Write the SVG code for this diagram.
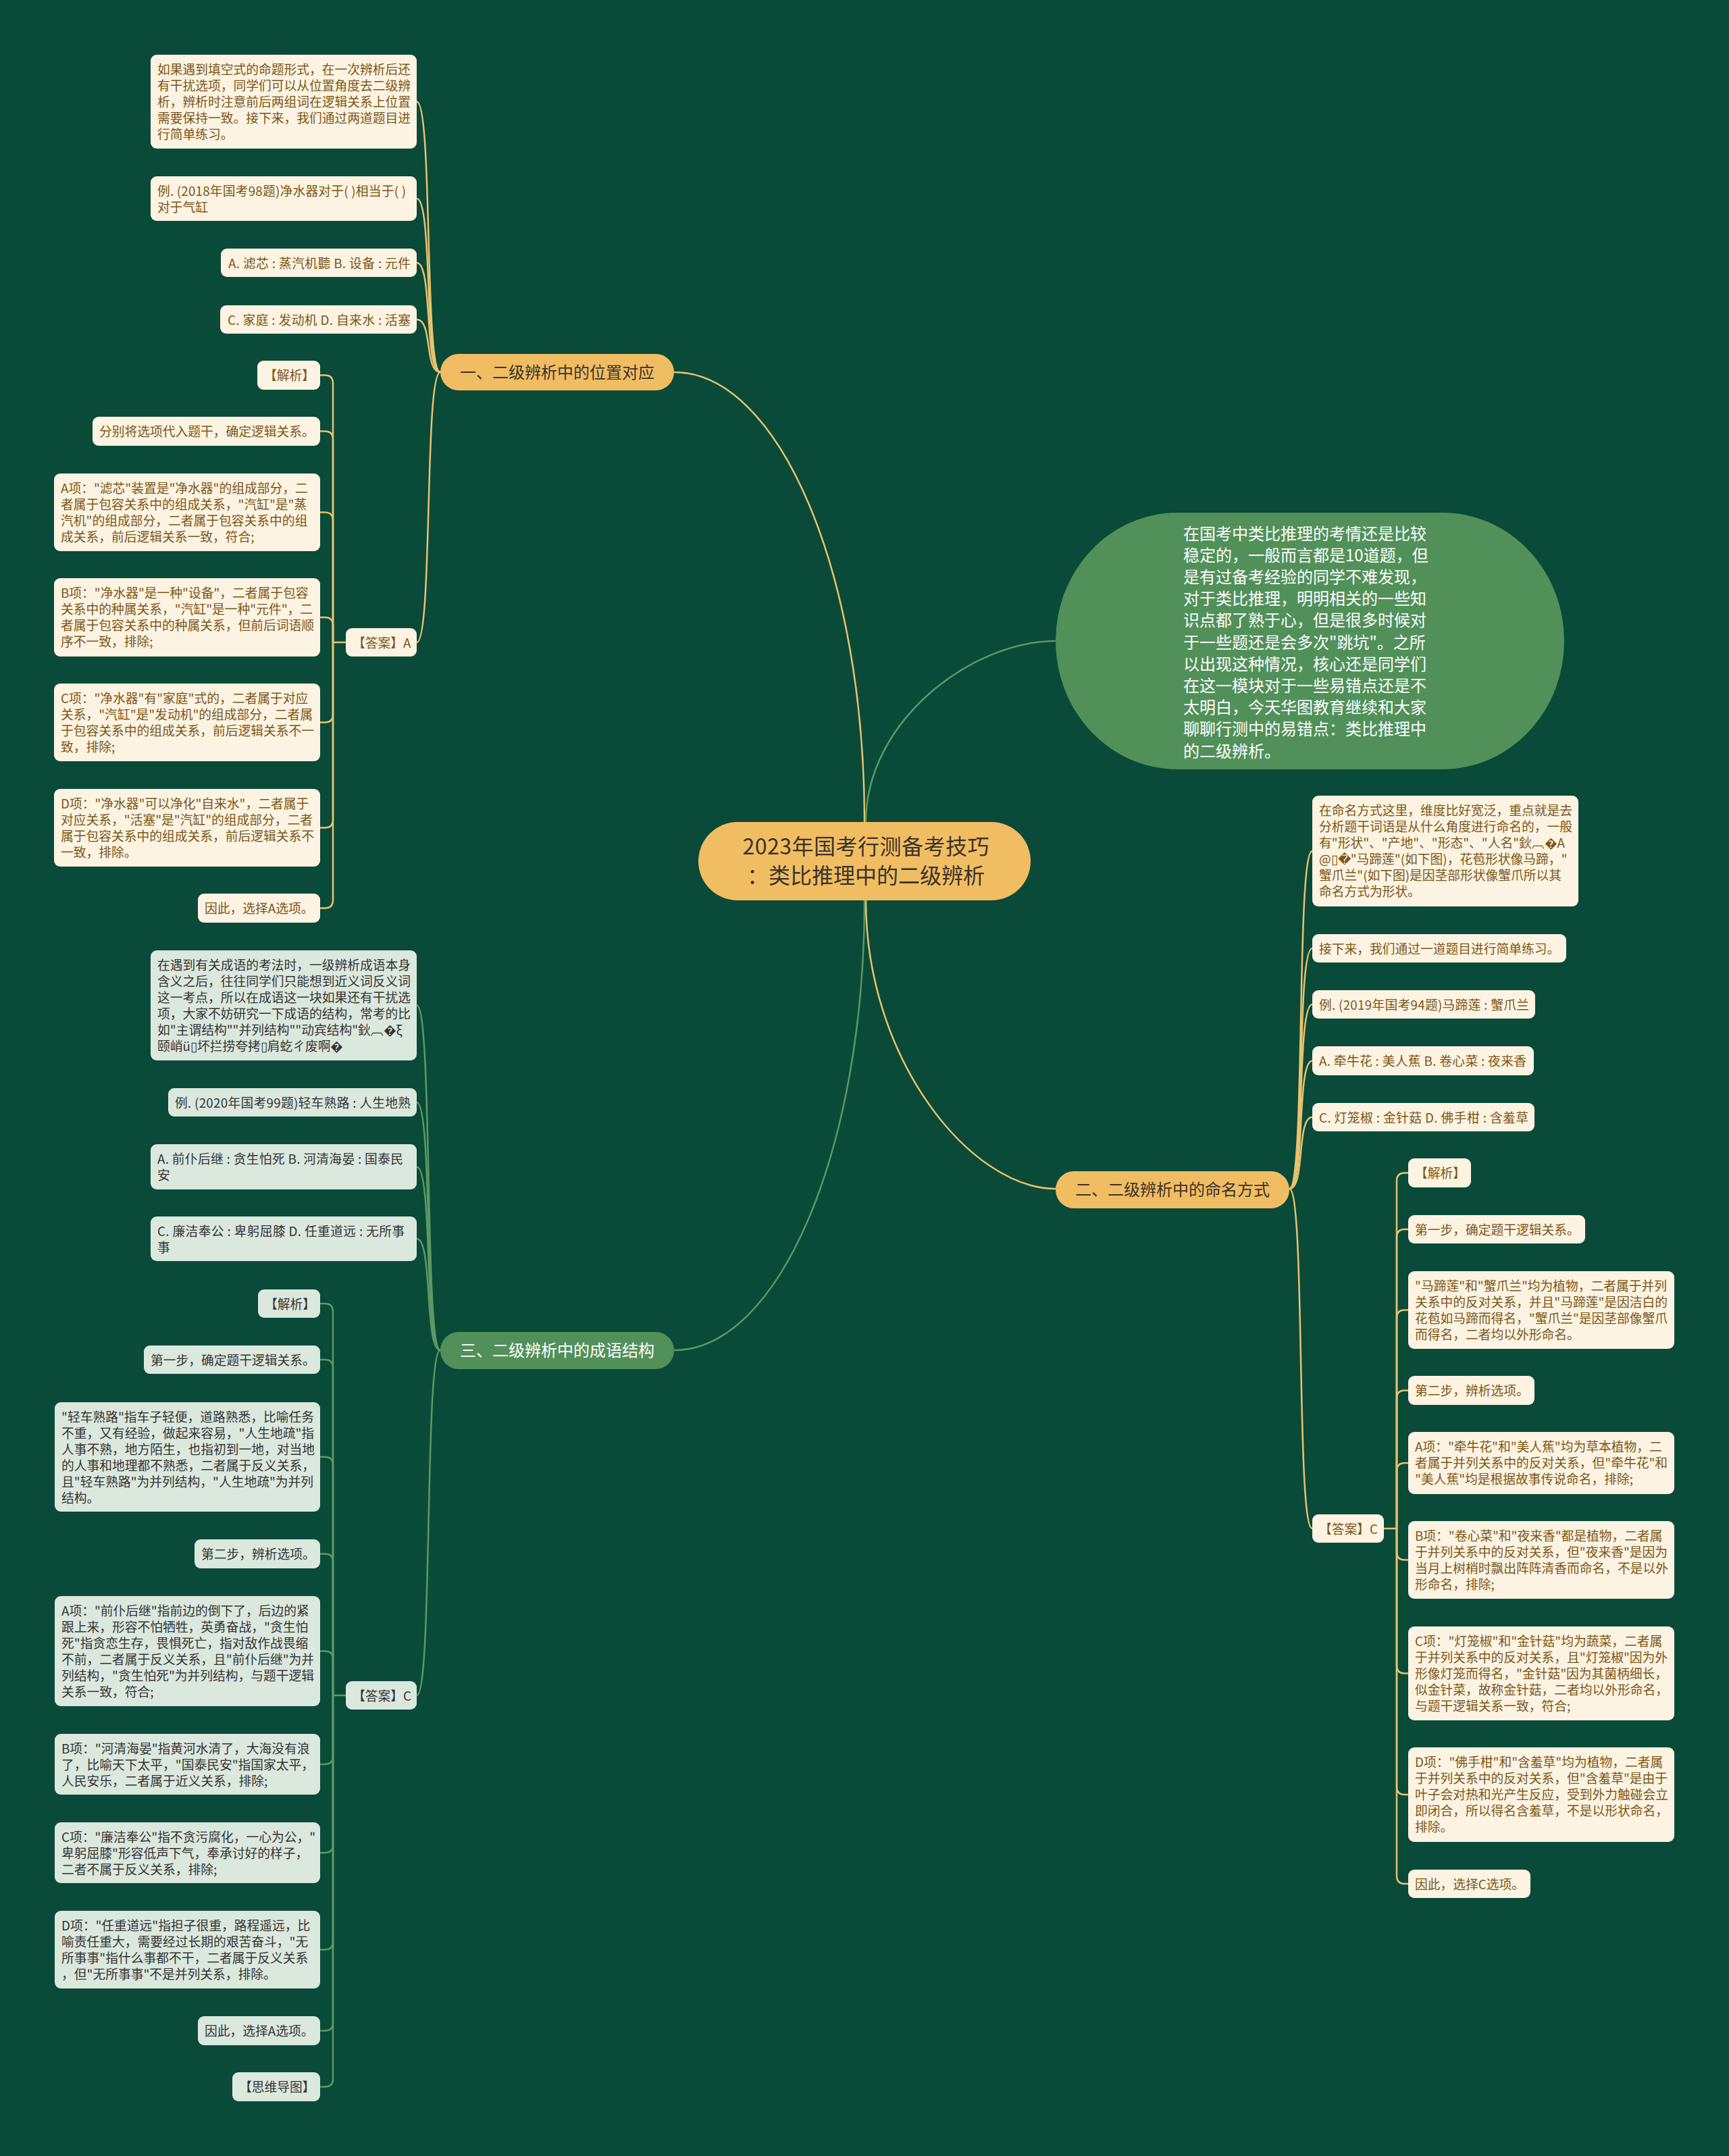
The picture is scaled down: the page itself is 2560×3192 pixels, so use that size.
<svg xmlns="http://www.w3.org/2000/svg" width="2560" height="3192" viewBox="0 0 2560 3192">
<style>
text{font-family:"Noto Sans CJK SC","Liberation Sans",sans-serif;}
.cn{fill:#fcf3e2;}
.gn{fill:#dbe8dd;}
.ct{fill:#7b5617;font-size:18.75px;}
.gt{fill:#333333;font-size:18.75px;}
.ly{fill:none;stroke:#e8c36f;stroke-width:2.5;}
.lg{fill:none;stroke:#5b9a63;stroke-width:2.5;}
.pill{fill:#f1bd63;}
.gpill{fill:#519159;}
.bt{font-size:24px;}
</style>
<rect width="2560" height="3192" fill="#0a4a38"/>

<g id="connectors">
  <path class="ly" d="M998 551C1154 551 1280 849 1280 1217"/>
  <path class="lg" d="M1282 1217C1282 1069 1437 949 1563 949"/>
  <path class="ly" d="M1282 1333C1282 1568 1437 1760 1563 1760"/>
  <path class="lg" d="M1280 1333C1280 1700 1154 1999 998 1999"/>
  <path class="ly" d="M652 551C628 551 641 150.5 617 150.5"/>
  <path class="ly" d="M652 551C628 551 641 294 617 294"/>
  <path class="ly" d="M652 551C628 551 641 389 617 389"/>
  <path class="ly" d="M652 551C628 551 641 473 617 473"/>
  <path class="ly" d="M652 551C628 551 641 951 617 951"/>
  <path class="ly" d="M512 951H493"/>
  <path class="ly" d="M493 951V567.5Q493 555.5 481 555.5H474"/>
  <path class="ly" d="M493 951V650.5Q493 638.5 481 638.5H474"/>
  <path class="ly" d="M493 951V770.5Q493 758.5 481 758.5H474"/>
  <path class="ly" d="M493 951V926Q493 914 481 914H474"/>
  <path class="ly" d="M493 951V1057.5Q493 1069.5 481 1069.5H474"/>
  <path class="ly" d="M493 951V1213.5Q493 1225.5 481 1225.5H474"/>
  <path class="ly" d="M493 951V1332.5Q493 1344.5 481 1344.5H474"/>
  <path class="lg" d="M652 1999C628 1999 641 1488.5 617 1488.5"/>
  <path class="lg" d="M652 1999C628 1999 641 1632 617 1632"/>
  <path class="lg" d="M652 1999C628 1999 641 1727.5 617 1727.5"/>
  <path class="lg" d="M652 1999C628 1999 641 1834 617 1834"/>
  <path class="lg" d="M652 1999C628 1999 641 2510 617 2510"/>
  <path class="lg" d="M512 2510H493"/>
  <path class="lg" d="M493 2510V1942Q493 1930 481 1930H474"/>
  <path class="lg" d="M493 2510V2025Q493 2013 481 2013H474"/>
  <path class="lg" d="M493 2510V2169Q493 2157 481 2157H474"/>
  <path class="lg" d="M493 2510V2312.5Q493 2300.5 481 2300.5H474"/>
  <path class="lg" d="M493 2510V2456.5Q493 2444.5 481 2444.5H474"/>
  <path class="lg" d="M493 2510V2600Q493 2612 481 2612H474"/>
  <path class="lg" d="M493 2510V2731Q493 2743 481 2743H474"/>
  <path class="lg" d="M493 2510V2874.5Q493 2886.5 481 2886.5H474"/>
  <path class="lg" d="M493 2510V2994.5Q493 3006.5 481 3006.5H474"/>
  <path class="lg" d="M493 2510V3077.5Q493 3089.5 481 3089.5H474"/>
  <path class="ly" d="M1909 1760C1933 1760 1919 1260 1943 1260"/>
  <path class="ly" d="M1909 1760C1933 1760 1919 1404 1943 1404"/>
  <path class="ly" d="M1909 1760C1933 1760 1919 1487 1943 1487"/>
  <path class="ly" d="M1909 1760C1933 1760 1919 1570.5 1943 1570.5"/>
  <path class="ly" d="M1909 1760C1933 1760 1919 1654 1943 1654"/>
  <path class="ly" d="M1909 1760C1933 1760 1919 2263 1943 2263"/>
  <path class="ly" d="M2049 2263H2068"/>
  <path class="ly" d="M2068 2263V1748.5Q2068 1736.5 2080 1736.5H2085"/>
  <path class="ly" d="M2068 2263V1832Q2068 1820 2080 1820H2085"/>
  <path class="ly" d="M2068 2263V1951.5Q2068 1939.5 2080 1939.5H2085"/>
  <path class="ly" d="M2068 2263V2070.5Q2068 2058.5 2080 2058.5H2085"/>
  <path class="ly" d="M2068 2263V2178Q2068 2166 2080 2166H2085"/>
  <path class="ly" d="M2068 2263V2297.5Q2068 2309.5 2080 2309.5H2085"/>
  <path class="ly" d="M2068 2263V2465.5Q2068 2477.5 2080 2477.5H2085"/>
  <path class="ly" d="M2068 2263V2645Q2068 2657 2080 2657H2085"/>
  <path class="ly" d="M2068 2263V2777Q2068 2789 2080 2789H2085"/>
</g>

<g id="center">
  <rect class="pill" x="1034" y="1217" width="492" height="116" rx="58"/>
  <text x="1282" y="1264.5" font-size="32" fill="#3a3328" text-anchor="middle" textLength="365" lengthAdjust="spacing">2023年国考行测备考技巧</text>
  <text x="1282" y="1307.5" font-size="32" fill="#3a3328" text-anchor="middle">：类比推理中的二级辨析</text>
</g>

<g id="intro">
  <rect class="gpill" x="1563" y="759" width="753" height="380" rx="180" ry="190"/>
  <text font-size="24" fill="#ffffff">
    <tspan x="1752" y="798.6">在国考中类比推理的考情还是比较</tspan>
    <tspan x="1752" y="830.8">稳定的，一般而言都是10道题，但</tspan>
    <tspan x="1752" y="863">是有过备考经验的同学不难发现，</tspan>
    <tspan x="1752" y="895.2">对于类比推理，明明相关的一些知</tspan>
    <tspan x="1752" y="927.4">识点都了熟于心，但是很多时候对</tspan>
    <tspan x="1752" y="959.6">于一些题还是会多次"跳坑"。之所</tspan>
    <tspan x="1752" y="991.8">以出现这种情况，核心还是同学们</tspan>
    <tspan x="1752" y="1024">在这一模块对于一些易错点还是不</tspan>
    <tspan x="1752" y="1056.2">太明白，今天华图教育继续和大家</tspan>
    <tspan x="1752" y="1088.4">聊聊行测中的易错点：类比推理中</tspan>
    <tspan x="1752" y="1120.6">的二级辨析。</tspan>
  </text>
</g>

<g id="branch1">
  <rect class="pill" x="652" y="524" width="346" height="54" rx="27"/>
  <text class="bt" x="825" y="559.6" fill="#3a3328" text-anchor="middle">一、二级辨析中的位置对应</text>
</g>
<g id="branch2">
  <rect class="pill" x="1563" y="1734" width="346" height="55" rx="27"/>
  <text class="bt" x="1736" y="1770" fill="#3a3328" text-anchor="middle">二、二级辨析中的命名方式</text>
</g>
<g id="branch3">
  <rect class="gpill" x="652" y="1972" width="346" height="55" rx="27"/>
  <text class="bt" x="825" y="2007.6" fill="#ffffff" text-anchor="middle">三、二级辨析中的成语结构</text>
</g>

<g id="n1"><rect class="cn" x="223" y="81" width="394" height="139" rx="9"/>
<text class="ct"><tspan x="233" y="109.5">如果遇到填空式的命题形式，在一次辨析后还</tspan><tspan x="233" y="133.5">有干扰选项，同学们可以从位置角度去二级辨</tspan><tspan x="233" y="157.5">析，辨析时注意前后两组词在逻辑关系上位置</tspan><tspan x="233" y="181.5">需要保持一致。接下来，我们通过两道题目进</tspan><tspan x="233" y="205.5">行简单练习。</tspan></text></g>
<g id="n2"><rect class="cn" x="223" y="261" width="394" height="66" rx="9"/>
<text class="ct" x="233" y="289.5" textLength="368" lengthAdjust="spacing">例. (2018年国考98题)净水器对于( )相当于( )</text>
<text class="ct" x="233" y="313.5">对于气缸</text></g>
<g id="n3"><rect class="cn" x="327" y="368" width="290" height="42" rx="9"/>
<text class="ct" x="338" y="396.5" textLength="270" lengthAdjust="spacing">A. 滤芯 : 蒸汽机聽 B. 设备 : 元件</text></g>
<g id="n4"><rect class="cn" x="326" y="452" width="291" height="42" rx="9"/>
<text class="ct" x="337" y="480.5" textLength="271" lengthAdjust="spacing">C. 家庭 : 发动机 D. 自来水 : 活塞</text></g>
<g id="ansA"><rect class="cn" x="512" y="930" width="105" height="42" rx="9"/>
<text class="ct" x="522" y="958.5">【答案】A</text></g>

<g id="a1"><rect class="cn" x="381" y="534" width="93" height="43" rx="9"/>
<text class="ct" x="391" y="562.5">【解析】</text></g>
<g id="a2"><rect class="cn" x="137" y="617" width="337" height="43" rx="9"/>
<text class="ct" x="147" y="645.5">分别将选项代入题干，确定逻辑关系。</text></g>
<g id="a3"><rect class="cn" x="80" y="701" width="394" height="115" rx="9"/>
<text class="ct"><tspan x="90" y="729.5">A项："滤芯"装置是"净水器"的组成部分，二</tspan><tspan x="90" y="753.5">者属于包容关系中的组成关系，"汽缸"是"蒸</tspan><tspan x="90" y="777.5">汽机"的组成部分，二者属于包容关系中的组</tspan><tspan x="90" y="801.5">成关系，前后逻辑关系一致，符合;</tspan></text></g>
<g id="a4"><rect class="cn" x="80" y="856" width="394" height="116" rx="9"/>
<text class="ct"><tspan x="90" y="884.5">B项："净水器"是一种"设备"，二者属于包容</tspan><tspan x="90" y="908.5">关系中的种属关系，"汽缸"是一种"元件"，二</tspan><tspan x="90" y="932.5">者属于包容关系中的种属关系，但前后词语顺</tspan><tspan x="90" y="956.5">序不一致，排除;</tspan></text></g>
<g id="a5"><rect class="cn" x="80" y="1012" width="394" height="115" rx="9"/>
<text class="ct"><tspan x="90" y="1040.5">C项："净水器"有"家庭"式的，二者属于对应</tspan><tspan x="90" y="1064.5">关系，"汽缸"是"发动机"的组成部分，二者属</tspan><tspan x="90" y="1088.5">于包容关系中的组成关系，前后逻辑关系不一</tspan><tspan x="90" y="1112.5">致，排除;</tspan></text></g>
<g id="a6"><rect class="cn" x="80" y="1168" width="394" height="115" rx="9"/>
<text class="ct"><tspan x="90" y="1196.5">D项："净水器"可以净化"自来水"，二者属于</tspan><tspan x="90" y="1220.5">对应关系，"活塞"是"汽缸"的组成部分，二者</tspan><tspan x="90" y="1244.5">属于包容关系中的组成关系，前后逻辑关系不</tspan><tspan x="90" y="1268.5">一致，排除。</tspan></text></g>
<g id="a7"><rect class="cn" x="293" y="1323" width="181" height="43" rx="9"/>
<text class="ct" x="303" y="1351.5">因此，选择A选项。</text></g>

<g id="g1"><rect class="gn" x="223" y="1407" width="394" height="163" rx="9"/>
<text class="gt"><tspan x="233" y="1435.5">在遇到有关成语的考法时，一级辨析成语本身</tspan><tspan x="233" y="1459.5">含义之后，往往同学们只能想到近义词反义词</tspan><tspan x="233" y="1483.5">这一考点，所以在成语这一块如果还有干扰选</tspan><tspan x="233" y="1507.5">项，大家不妨研究一下成语的结构，常考的比</tspan><tspan x="233" y="1531.5">如"主谓结构""并列结构""动宾结构"鈥︹�ξ</tspan><tspan x="233" y="1555.5">颐峭ü▯坏拦捞夸拷▯肩虼ㄔ废啊�</tspan></text></g>
<g id="g2"><rect class="gn" x="249" y="1611" width="368" height="42" rx="9"/>
<text class="gt" x="259" y="1639.5" textLength="349" lengthAdjust="spacing">例. (2020年国考99题)轻车熟路 : 人生地熟</text></g>
<g id="g3"><rect class="gn" x="223" y="1694" width="394" height="67" rx="9"/>
<text class="gt" x="233" y="1722.5" textLength="364" lengthAdjust="spacing">A. 前仆后继 : 贪生怕死 B. 河清海晏 : 国泰民</text>
<text class="gt" x="233" y="1746.5">安</text></g>
<g id="g4"><rect class="gn" x="223" y="1801" width="394" height="66" rx="9"/>
<text class="gt" x="233" y="1829.5" textLength="366" lengthAdjust="spacing">C. 廉洁奉公 : 卑躬屈膝 D. 任重道远 : 无所事</text>
<text class="gt" x="233" y="1853.5">事</text></g>
<g id="ansC"><rect class="gn" x="512" y="2489" width="105" height="42" rx="9"/>
<text class="gt" x="522" y="2517.5">【答案】C</text></g>

<g id="c1"><rect class="gn" x="382" y="1909" width="92" height="42" rx="9"/>
<text class="gt" x="392" y="1937.5">【解析】</text></g>
<g id="c2"><rect class="gn" x="213" y="1992" width="261" height="42" rx="9"/>
<text class="gt" x="223" y="2020.5">第一步，确定题干逻辑关系。</text></g>
<g id="c3"><rect class="gn" x="81" y="2076" width="393" height="162" rx="9"/>
<text class="gt"><tspan x="91" y="2104.5">"轻车熟路"指车子轻便，道路熟悉，比喻任务</tspan><tspan x="91" y="2128.5">不重，又有经验，做起来容易，"人生地疏"指</tspan><tspan x="91" y="2152.5">人事不熟，地方陌生，也指初到一地，对当地</tspan><tspan x="91" y="2176.5">的人事和地理都不熟悉，二者属于反义关系，</tspan><tspan x="91" y="2200.5">且"轻车熟路"为并列结构，"人生地疏"为并列</tspan><tspan x="91" y="2224.5">结构。</tspan></text></g>
<g id="c4"><rect class="gn" x="288" y="2279" width="186" height="43" rx="9"/>
<text class="gt" x="298" y="2307.5">第二步，辨析选项。</text></g>
<g id="c5"><rect class="gn" x="81" y="2363" width="393" height="163" rx="9"/>
<text class="gt"><tspan x="91" y="2391.5">A项："前仆后继"指前边的倒下了，后边的紧</tspan><tspan x="91" y="2415.5">跟上来，形容不怕牺牲，英勇奋战，"贪生怕</tspan><tspan x="91" y="2439.5">死"指贪恋生存，畏惧死亡，指对敌作战畏缩</tspan><tspan x="91" y="2463.5">不前，二者属于反义关系，且"前仆后继"为并</tspan><tspan x="91" y="2487.5">列结构，"贪生怕死"为并列结构，与题干逻辑</tspan><tspan x="91" y="2511.5">关系一致，符合;</tspan></text></g>
<g id="c6"><rect class="gn" x="81" y="2567" width="393" height="90" rx="9"/>
<text class="gt"><tspan x="91" y="2595.5">B项："河清海晏"指黄河水清了，大海没有浪</tspan><tspan x="91" y="2619.5">了，比喻天下太平，"国泰民安"指国家太平，</tspan><tspan x="91" y="2643.5">人民安乐，二者属于近义关系，排除;</tspan></text></g>
<g id="c7"><rect class="gn" x="81" y="2698" width="393" height="90" rx="9"/>
<text class="gt"><tspan x="91" y="2726.5">C项："廉洁奉公"指不贪污腐化，一心为公，"</tspan><tspan x="91" y="2750.5">卑躬屈膝"形容低声下气，奉承讨好的样子，</tspan><tspan x="91" y="2774.5">二者不属于反义关系，排除;</tspan></text></g>
<g id="c8"><rect class="gn" x="81" y="2829" width="393" height="115" rx="9"/>
<text class="gt"><tspan x="91" y="2857.5">D项："任重道远"指担子很重，路程遥远，比</tspan><tspan x="91" y="2881.5">喻责任重大，需要经过长期的艰苦奋斗，"无</tspan><tspan x="91" y="2905.5">所事事"指什么事都不干，二者属于反义关系</tspan><tspan x="91" y="2929.5">，但"无所事事"不是并列关系，排除。</tspan></text></g>
<g id="c9"><rect class="gn" x="293" y="2985" width="181" height="43" rx="9"/>
<text class="gt" x="303" y="3013.5">因此，选择A选项。</text></g>
<g id="c10"><rect class="gn" x="344" y="3068" width="130" height="43" rx="9"/>
<text class="gt" x="354" y="3096.5">【思维导图】</text></g>

<g id="r1"><rect class="cn" x="1943" y="1178" width="394" height="164" rx="9"/>
<text class="ct"><tspan x="1953" y="1206.5">在命名方式这里，维度比好宽泛，重点就是去</tspan><tspan x="1953" y="1230.5">分析题干词语是从什么角度进行命名的，一般</tspan><tspan x="1953" y="1254.5">有"形状"、"产地"、"形态"、"人名"鈥︹�A</tspan><tspan x="1953" y="1278.5">@▯�"马蹄莲"(如下图)，花苞形状像马蹄，"</tspan><tspan x="1953" y="1302.5">蟹爪兰"(如下图)是因茎部形状像蟹爪所以其</tspan><tspan x="1953" y="1326.5">命名方式为形状。</tspan></text></g>
<g id="r2"><rect class="cn" x="1943" y="1383" width="376" height="42" rx="9"/>
<text class="ct" x="1953" y="1411.5">接下来，我们通过一道题目进行简单练习。</text></g>
<g id="r3"><rect class="cn" x="1943" y="1466" width="330" height="42" rx="9"/>
<text class="ct" x="1953" y="1494.5" textLength="311" lengthAdjust="spacing">例. (2019年国考94题)马蹄莲 : 蟹爪兰</text></g>
<g id="r4"><rect class="cn" x="1943" y="1549" width="328" height="43" rx="9"/>
<text class="ct" x="1953" y="1577.5" textLength="307" lengthAdjust="spacing">A. 牵牛花 : 美人蕉 B. 卷心菜 : 夜来香</text></g>
<g id="r5"><rect class="cn" x="1943" y="1633" width="329" height="42" rx="9"/>
<text class="ct" x="1953" y="1661.5" textLength="310" lengthAdjust="spacing">C. 灯笼椒 : 金针菇 D. 佛手柑 : 含羞草</text></g>
<g id="ansC2"><rect class="cn" x="1943" y="2242" width="106" height="42" rx="9"/>
<text class="ct" x="1953" y="2270.5">【答案】C</text></g>

<g id="s1"><rect class="cn" x="2085" y="1715" width="93" height="43" rx="9"/>
<text class="ct" x="2095" y="1743.5">【解析】</text></g>
<g id="s2"><rect class="cn" x="2085" y="1799" width="262" height="42" rx="9"/>
<text class="ct" x="2095" y="1827.5">第一步，确定题干逻辑关系。</text></g>
<g id="s3"><rect class="cn" x="2085" y="1882" width="394" height="115" rx="9"/>
<text class="ct"><tspan x="2095" y="1910.5">"马蹄莲"和"蟹爪兰"均为植物，二者属于并列</tspan><tspan x="2095" y="1934.5">关系中的反对关系，并且"马蹄莲"是因洁白的</tspan><tspan x="2095" y="1958.5">花苞如马蹄而得名，"蟹爪兰"是因茎部像蟹爪</tspan><tspan x="2095" y="1982.5">而得名，二者均以外形命名。</tspan></text></g>
<g id="s4"><rect class="cn" x="2085" y="2037" width="187" height="43" rx="9"/>
<text class="ct" x="2095" y="2065.5">第二步，辨析选项。</text></g>
<g id="s5"><rect class="cn" x="2085" y="2120" width="394" height="92" rx="9"/>
<text class="ct"><tspan x="2095" y="2148.5">A项："牵牛花"和"美人蕉"均为草本植物，二</tspan><tspan x="2095" y="2172.5">者属于并列关系中的反对关系，但"牵牛花"和</tspan><tspan x="2095" y="2196.5">"美人蕉"均是根据故事传说命名，排除;</tspan></text></g>
<g id="s6"><rect class="cn" x="2085" y="2252" width="394" height="115" rx="9"/>
<text class="ct"><tspan x="2095" y="2280.5">B项："卷心菜"和"夜来香"都是植物，二者属</tspan><tspan x="2095" y="2304.5">于并列关系中的反对关系，但"夜来香"是因为</tspan><tspan x="2095" y="2328.5">当月上树梢时飘出阵阵清香而命名，不是以外</tspan><tspan x="2095" y="2352.5">形命名，排除;</tspan></text></g>
<g id="s7"><rect class="cn" x="2085" y="2408" width="394" height="139" rx="9"/>
<text class="ct"><tspan x="2095" y="2436.5">C项："灯笼椒"和"金针菇"均为蔬菜，二者属</tspan><tspan x="2095" y="2460.5">于并列关系中的反对关系，且"灯笼椒"因为外</tspan><tspan x="2095" y="2484.5">形像灯笼而得名，"金针菇"因为其菌柄细长，</tspan><tspan x="2095" y="2508.5">似金针菜，故称金针菇，二者均以外形命名，</tspan><tspan x="2095" y="2532.5">与题干逻辑关系一致，符合;</tspan></text></g>
<g id="s8"><rect class="cn" x="2085" y="2587" width="394" height="140" rx="9"/>
<text class="ct"><tspan x="2095" y="2615.5">D项："佛手柑"和"含羞草"均为植物，二者属</tspan><tspan x="2095" y="2639.5">于并列关系中的反对关系，但"含羞草"是由于</tspan><tspan x="2095" y="2663.5">叶子会对热和光产生反应，受到外力触碰会立</tspan><tspan x="2095" y="2687.5">即闭合，所以得名含羞草，不是以形状命名，</tspan><tspan x="2095" y="2711.5">排除。</tspan></text></g>
<g id="s9"><rect class="cn" x="2085" y="2768" width="181" height="42" rx="9"/>
<text class="ct" x="2095" y="2796.5">因此，选择C选项。</text></g>
</svg>
